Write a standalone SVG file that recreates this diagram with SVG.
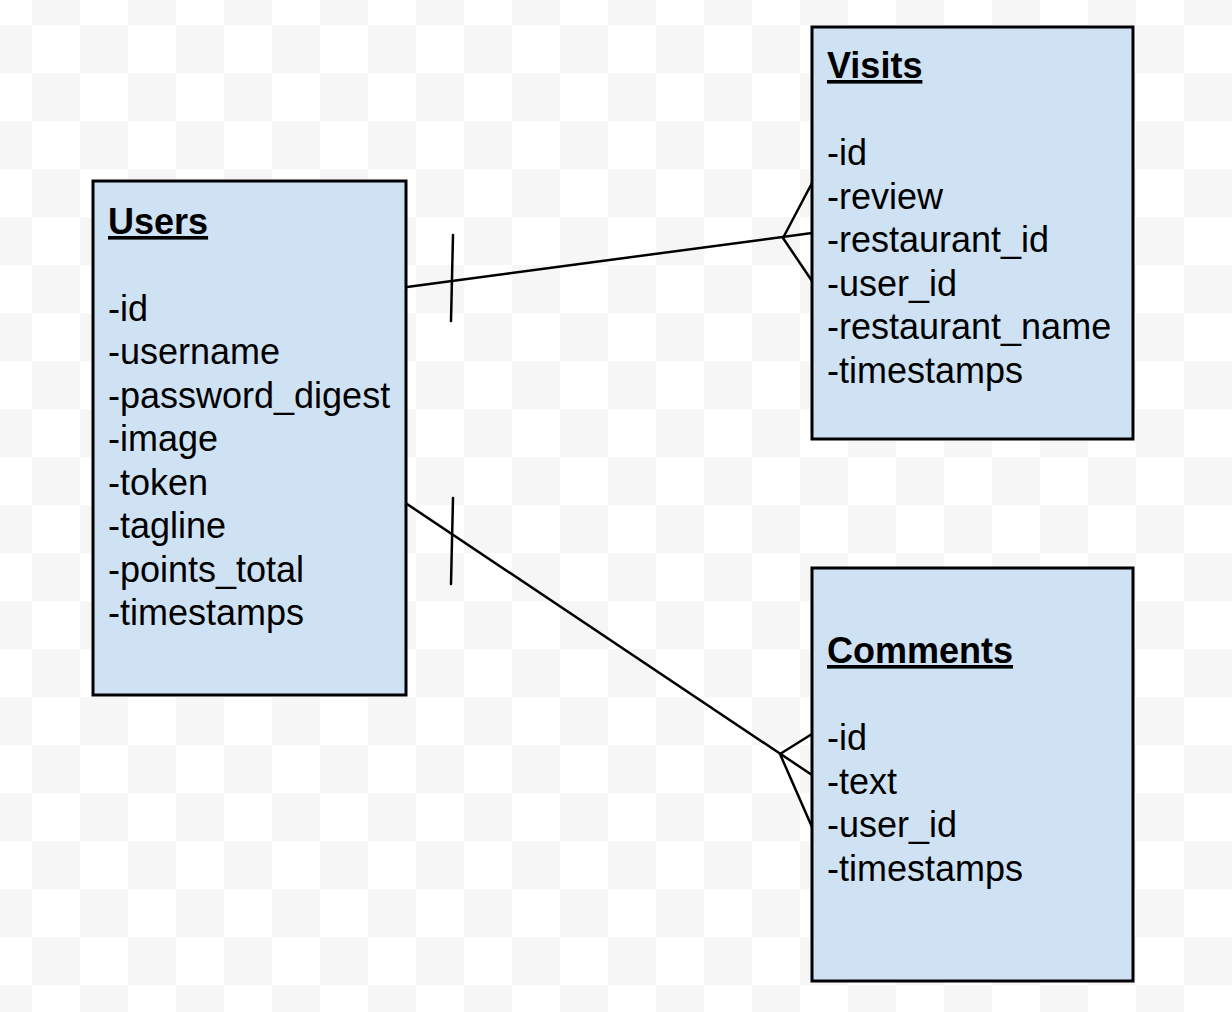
<svg xmlns="http://www.w3.org/2000/svg" width="1232" height="1012" viewBox="0 0 1232 1012">
  <defs>
    <pattern id="checker" patternUnits="userSpaceOnUse" x="32" y="25" width="96" height="96">
      <rect x="0" y="0" width="96" height="96" fill="#ffffff"/>
      <rect x="48" y="0" width="48" height="48" fill="#f6f6f6"/>
      <rect x="0" y="48" width="48" height="48" fill="#f6f6f6"/>
    </pattern>
  </defs>
  <style>
    .box { fill: #cfe2f3; stroke: #000000; stroke-width: 3; }
    .title { font-family: "Liberation Sans", Arial, sans-serif; font-size: 36px; font-weight: bold; text-decoration: underline; fill: #000000; }
    .field { font-family: "Liberation Sans", Arial, sans-serif; font-size: 36px; fill: #000000; }
    .conn { stroke: #000000; stroke-width: 2.5; fill: none; stroke-linecap: round; stroke-linejoin: round; }
  </style>
  <rect x="0" y="0" width="1232" height="1012" fill="url(#checker)"/>

  <g id="connectors">
    <!-- Users to Visits -->
    <line class="conn" x1="407" y1="287" x2="812" y2="233"/>
    <line class="conn" x1="453" y1="235" x2="451" y2="321"/>
    <polyline class="conn" points="812,183 783,238 812,281"/>
    <!-- Users to Comments -->
    <line class="conn" x1="407" y1="504" x2="812" y2="775"/>
    <line class="conn" x1="453" y1="498" x2="451" y2="584"/>
    <polyline class="conn" points="812,734 780,754 812,827"/>
  </g>

  <g id="users">
    <rect class="box" x="93" y="181" width="313" height="514"/>
    <text class="title" x="108" y="234">Users</text>
    <text class="field" x="108" y="320.5">-id</text>
    <text class="field" x="108" y="364">-username</text>
    <text class="field" x="108" y="407.5">-password_digest</text>
    <text class="field" x="108" y="451">-image</text>
    <text class="field" x="108" y="494.5">-token</text>
    <text class="field" x="108" y="538">-tagline</text>
    <text class="field" x="108" y="581.5">-points_total</text>
    <text class="field" x="108" y="625">-timestamps</text>
  </g>

  <g id="visits">
    <rect class="box" x="812" y="27" width="321" height="412"/>
    <text class="title" x="827" y="78">Visits</text>
    <text class="field" x="827" y="165">-id</text>
    <text class="field" x="827" y="208.5">-review</text>
    <text class="field" x="827" y="252">-restaurant_id</text>
    <text class="field" x="827" y="295.5">-user_id</text>
    <text class="field" x="827" y="339">-restaurant_name</text>
    <text class="field" x="827" y="382.5">-timestamps</text>
  </g>

  <g id="comments">
    <rect class="box" x="812" y="568" width="321" height="413"/>
    <text class="title" x="827" y="663">Comments</text>
    <text class="field" x="827" y="750">-id</text>
    <text class="field" x="827" y="793.5">-text</text>
    <text class="field" x="827" y="837">-user_id</text>
    <text class="field" x="827" y="880.5">-timestamps</text>
  </g>
</svg>
